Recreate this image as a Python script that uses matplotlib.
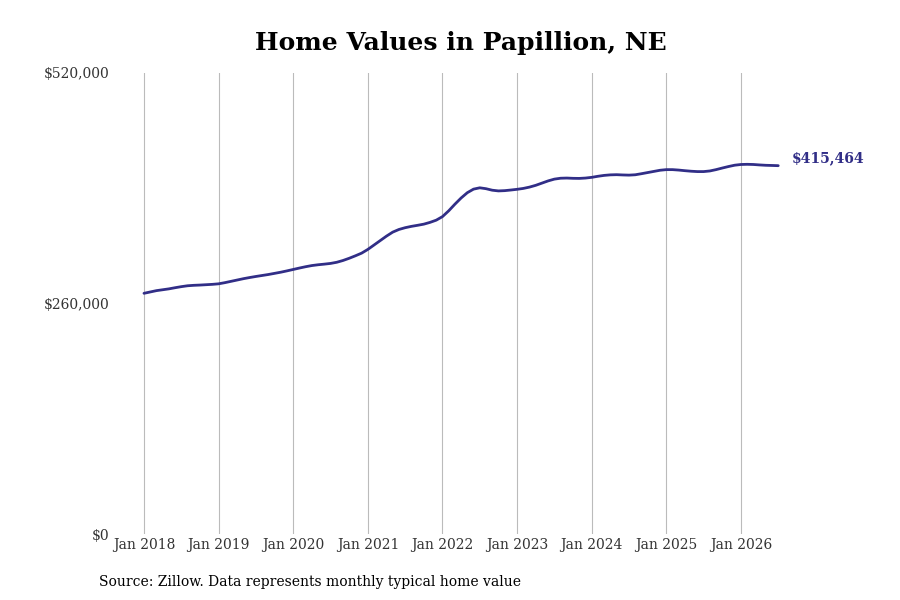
import matplotlib
matplotlib.use("Agg")
import matplotlib.pyplot as plt

values = [
    # 2018
    271500, 273000, 274500, 275500, 276500, 277800, 279000, 280000, 280500, 280800, 281200, 281600,
    # 2019
    282200, 283500, 285000, 286500, 288000, 289300, 290500, 291600, 292700, 294000, 295300, 296800,
    # 2020
    298400, 300000, 301500, 302800, 303700, 304400, 305200, 306500, 308500, 311000, 313800, 316800,
    # 2021
    321000, 326000, 331000, 336000, 340500, 343500, 345500, 347000, 348200, 349500, 351500, 354000,
    # 2022
    358000, 364500, 372000, 379000, 385000, 389000, 390500, 389500, 387800, 387000, 387300, 388000,
    # 2023
    388800, 389800, 391300, 393300, 395800, 398300, 400300, 401300, 401500, 401200, 401100, 401500,
    # 2024
    402300, 403500, 404500, 405100, 405300, 405000, 404800, 405200, 406400, 407700, 409000, 410300,
    # 2025
    411000, 411000, 410500, 409800, 409200, 408800, 408800, 409500, 411000, 412800, 414500, 416000,
    # 2026
    416800, 417000, 416800, 416300, 415900, 415700, 415464,
]
months = list(range(len(values)))
tick_positions = [0, 12, 24, 36, 48, 60, 72, 84, 96]
tick_labels = ["Jan 2018", "Jan 2019", "Jan 2020", "Jan 2021", "Jan 2022",
               "Jan 2023", "Jan 2024", "Jan 2025", "Jan 2026"]
y_ticks = [0, 260000, 520000]
y_labels = ["$0", "$260,000", "$520,000"]
end_label = "$415,464"

plt.rcParams['font.family'] = ['DejaVu Serif']
color = '#312e87'

fig = plt.figure(figsize=(9, 6), dpi=100)
ax = fig.add_axes([115/900, 1-534/600, (800-115)/900, (534-73)/600])
ax.plot(months, values, color=color, lw=2.0, solid_capstyle='round')
ax.set_ylim(0, 520000)
ax.set_xlim(-4.66, 105.5)
ax.set_xticks(tick_positions)
ax.set_xticklabels(tick_labels)
ax.set_yticks(y_ticks)
ax.set_yticklabels(y_labels)
ax.tick_params(length=0, labelsize=10, colors='#333333')
ax.tick_params(axis='y', pad=4)
ax.tick_params(axis='x', pad=3)
ax.grid(axis='x', color='#bbbbbb', lw=0.8)
for s in ax.spines.values():
    s.set_visible(False)
ax.text(months[-1] + 2.2, values[-1], end_label, color=color, fontsize=10,
        fontweight='bold', va='bottom', ha='left')
fig.text(461/900, 1-43/600, "Home Values in Papillion, NE", ha='center', va='center',
         fontsize=18, fontweight='bold')
fig.text(99/900, 1-582/600, "Source: Zillow. Data represents monthly typical home value",
         ha='left', va='center', fontsize=10)
fig.savefig("out.png", dpi=100)
